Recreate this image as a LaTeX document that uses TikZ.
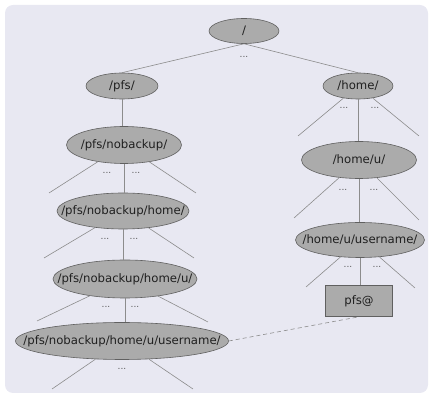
\documentclass[tikz,border=0pt]{standalone}
\usepackage{fontspec}
\setmainfont{DejaVu Sans}
\usetikzlibrary{shapes.geometric}
\definecolor{bgc}{HTML}{E8E8F2}
\definecolor{nodefill}{HTML}{ABABAB}
\definecolor{nodeedge}{HTML}{606060}
\definecolor{linec}{HTML}{8C8C8C}
\definecolor{txt}{HTML}{202020}
\tikzset{
  dir/.style={ellipse, draw=nodeedge, fill=nodefill, line width=0.6pt, inner sep=0pt},
  boxnode/.style={rectangle, draw=nodeedge, fill=nodefill, line width=0.6pt, inner sep=0pt, minimum width=67pt, minimum height=31pt, font=\fontsize{11.7}{14}\selectfont, text=txt},
  lbl/.style={font=\fontsize{11.7}{14}\selectfont, text=txt},
  edge/.style={draw=linec, line width=0.6pt},
  dots/.style={font=\fontsize{9}{10}\selectfont, text=black!65, inner sep=0pt}
}
\begin{document}
\begin{tikzpicture}[x=1pt,y=-1pt]
\useasboundingbox (0,0) rectangle (432,395);
\fill[bgc, rounded corners=8pt] (5,5) rectangle (428,393);
% nodes
\node[dir, minimum width=70pt, minimum height=25pt, label={[lbl]center:/}] (root) at (244,31) {};
\node[dir, minimum width=72pt, minimum height=26pt, label={[lbl]center:/pfs/}] (pfs) at (122,86) {};
\node[dir, minimum width=70pt, minimum height=26pt, label={[lbl]center:/home/}] (home) at (358,86) {};
\node[dir, minimum width=115pt, minimum height=37pt, label={[lbl]center:/pfs/nobackup/}] (nb) at (124,145) {};
\node[dir, minimum width=132pt, minimum height=36pt, label={[lbl]center:/pfs/nobackup/home/}] (nbh) at (123,211) {};
\node[dir, minimum width=144pt, minimum height=38pt, label={[lbl]center:/pfs/nobackup/home/u/}] (nbhu) at (125,279) {};
\node[dir, minimum width=213pt, minimum height=37pt, label={[lbl]center:/pfs/nobackup/home/u/username/}] (nbhuu) at (122,341) {};
\node[dir, minimum width=115pt, minimum height=37pt, label={[lbl]center:/home/u/}] (hu) at (359,160) {};
\node[dir, minimum width=129pt, minimum height=35pt, label={[lbl]center:/home/u/username/}] (huu) at (360,240) {};
\node[boxnode] (box) at (359,301) {pfs@};
% free ends
\coordinate (homeL) at (298,136);
\coordinate (homeR) at (419,136);
\coordinate (nbL) at (49,193);
\coordinate (nbR) at (196,193);
\coordinate (nbhL) at (44,258);
\coordinate (nbhR) at (194,258);
\coordinate (huL) at (294,218);
\coordinate (huR) at (419,220);
\coordinate (huuL) at (306,287);
\coordinate (huuR) at (415,288);
\coordinate (nbhuL) at (37,321);
\coordinate (nbhuR) at (208,322);
\coordinate (nbhuuL) at (52,389);
\coordinate (nbhuuR) at (193,389);
% edges
\draw[edge] (root.south) -- (pfs.north);
\draw[edge] (root.south) -- (home.north);
\draw[edge] (pfs.south) -- (pfs.south |- nb.north);
\draw[edge] (home.south) -- (home.south |- hu.north);
\draw[edge] (home) -- (homeL);
\draw[edge] (home) -- (homeR);
\draw[edge] (nb.south) -- (nb.south |- nbh.north);
\draw[edge] (nb) -- (nbL);
\draw[edge] (nb) -- (nbR);
\draw[edge] (nbh.south) -- (nbh.south |- nbhu.north);
\draw[edge] (nbh) -- (nbhL);
\draw[edge] (nbh) -- (nbhR);
\draw[edge] (nbhu.south) -- (nbhu.south |- nbhuu.north);
\draw[edge] (nbhu) -- (nbhuL);
\draw[edge] (nbhu) -- (nbhuR);
\draw[edge] (nbhuu) -- (nbhuuL);
\draw[edge] (nbhuu) -- (nbhuuR);
\draw[edge] (hu.south) -- (hu.south |- huu.north);
\draw[edge] (hu) -- (huL);
\draw[edge] (hu) -- (huR);
\draw[edge] (huu.south) -- (huu.south |- box.north);
\draw[edge] (huu) -- (huuL);
\draw[edge] (huu) -- (huuR);
\draw[edge, dash pattern=on 4pt off 3pt] (nbhuu.east) -- (box.south);
% dots
\node[dots] (d0) at (244,57) {...};
\node[dots] (d1) at (344,108) {...};
\node[dots] (d2) at (375,108) {...};
\node[dots] (d3) at (107,173) {...};
\node[dots] (d4) at (136,173) {...};
\node[dots] (d5) at (105,239) {...};
\node[dots] (d6) at (134,239) {...};
\node[dots] (d7) at (343,190) {...};
\node[dots] (d8) at (374,190) {...};
\node[dots] (d9) at (348,267) {...};
\node[dots] (d10) at (377,267) {...};
\node[dots] (d11) at (106,307) {...};
\node[dots] (d12) at (135,307) {...};
\node[dots] (d13) at (122,369) {...};
\end{tikzpicture}
\end{document}
